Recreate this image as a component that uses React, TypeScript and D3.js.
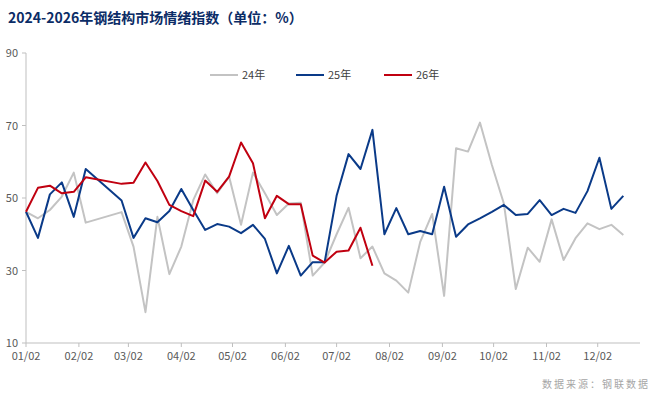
import { useEffect, useRef } from 'react';
import * as d3 from 'd3';

// day offsets from 01/02
const days24 = [0, 7, 14, 21, 28, 35, 56, 63, 70, 77, 84, 91, 98, 105, 112, 119, 126, 133, 140, 147, 154, 161, 168, 175, 182, 189, 196, 203, 210, 217, 224, 231, 238, 245, 252, 259, 266, 273, 280, 287, 294, 301, 308, 315, 322, 329, 336, 343, 350];
const vals24 = [46.2, 44.4, 46.7, 50.4, 57.0, 43.2, 46.1, 36.6, 18.5, 44.8, 29.0, 36.6, 49.4, 56.5, 51.3, 55.9, 42.6, 57.0, 51.3, 45.3, 48.5, 48.7, 28.6, 32.2, 40.0, 47.3, 33.4, 36.6, 29.2, 27.2, 23.9, 37.9, 45.6, 23.0, 63.7, 62.8, 70.8, 59.1, 48.5, 24.9, 36.3, 32.4, 44.1, 32.9, 38.9, 43.0, 41.4, 42.6, 39.8];
const days25 = days24;
const vals25 = [46.2, 39.0, 51.0, 54.3, 44.8, 58.0, 49.3, 39.0, 44.4, 43.3, 46.4, 52.5, 46.7, 41.2, 42.8, 42.1, 40.3, 42.6, 38.7, 29.2, 36.8, 28.6, 32.3, 32.3, 50.6, 62.1, 58.0, 68.8, 40.0, 47.2, 40.0, 40.9, 40.0, 53.1, 39.3, 42.7, 44.4, 46.2, 48.1, 45.3, 45.6, 49.4, 45.3, 47.0, 45.9, 51.9, 61.1, 47.0, 50.6];
const days26 = [0, 7, 14, 21, 28, 35, 56, 63, 70, 77, 84, 91, 98, 105, 112, 119, 126, 133, 140, 147, 154, 161, 168, 175, 182, 189, 196, 203];
const vals26 = [46.2, 52.8, 53.4, 51.3, 51.7, 55.7, 53.9, 54.2, 59.8, 54.7, 48.1, 46.4, 45.0, 54.8, 51.7, 55.9, 65.3, 59.6, 44.4, 50.6, 48.3, 48.3, 34.1, 32.2, 35.2, 35.5, 41.8, 31.3];
const monthLabels = ['01/02', '02/02', '03/02', '04/02', '05/02', '06/02', '07/02', '08/02', '09/02', '10/02', '11/02', '12/02'];
const monthDays = [0, 31, 60, 91, 121, 152, 182, 213, 244, 274, 305, 335];
const yTicks = [10, 30, 50, 70, 90];
const seriesNames = ['24年', '25年', '26年'];
const colors = ['#c3c3c3', '#0a3a88', '#c00010'];

export default function App() {
  const ref = useRef<SVGSVGElement>(null);
  useEffect(() => {
    const svg = d3.select(ref.current);
    svg.selectAll('*').remove();
    const x = d3.scaleLinear().domain([0, 334]).range([26, 596]);
    const y = d3.scaleLinear().domain([10, 90]).range([343, 53]);
    const font = '"Noto Sans CJK SC", "Noto Sans", sans-serif';

    svg.append('text').attr('x', 8).attr('y', 23).attr('font-family', font).attr('font-weight', 700)
      .attr('font-size', 14).attr('fill', '#0b2c66').text('2024-2026年钢结构市场情绪指数（单位：%）');

    // y axis
    svg.append('line').attr('x1', 26).attr('x2', 26).attr('y1', 53).attr('y2', 343).attr('stroke', '#bfbfbf');
    yTicks.forEach(t => {
      svg.append('line').attr('x1', 22).attr('x2', 26).attr('y1', y(t)).attr('y2', y(t)).attr('stroke', '#bfbfbf');
      svg.append('text').attr('x', 18).attr('y', y(t) + 4).attr('text-anchor', 'end').attr('font-family', font)
        .attr('font-size', 11).attr('fill', '#595959').text(t);
    });
    // x axis
    svg.append('line').attr('x1', 26).attr('x2', 640).attr('y1', 343).attr('y2', 343).attr('stroke', '#bfbfbf');
    monthDays.forEach((d, i) => {
      svg.append('line').attr('x1', x(d)).attr('x2', x(d)).attr('y1', 343).attr('y2', 347).attr('stroke', '#bfbfbf');
      svg.append('text').attr('x', x(d)).attr('y', 360).attr('text-anchor', 'middle').attr('font-family', font)
        .attr('font-size', 11).attr('fill', '#595959').text(monthLabels[i]);
    });

    const line = d3.line<[number, number]>().x(d => x(d[0])).y(d => y(d[1]));
    const all = [[days24, vals24], [days25, vals25], [days26, vals26]];
    all.forEach(([ds, vs], i) => {
      svg.append('path').attr('d', line(ds.map((d, j) => [d, vs[j]]) as [number, number][]))
        .attr('fill', 'none').attr('stroke', colors[i]).attr('stroke-width', 2).attr('stroke-linejoin', 'round');
    });

    // legend
    const lx = [210, 296, 384];
    seriesNames.forEach((n, i) => {
      svg.append('line').attr('x1', lx[i]).attr('x2', lx[i] + 28).attr('y1', 75).attr('y2', 75)
        .attr('stroke', colors[i]).attr('stroke-width', 2);
      svg.append('text').attr('x', lx[i] + 32).attr('y', 79).attr('font-family', font).attr('font-size', 11)
        .attr('fill', '#404040').text(n);
    });

    svg.append('text').attr('x', 650).attr('y', 388).attr('text-anchor', 'end').attr('font-family', font)
      .attr('font-size', 10).attr('fill', '#a6a6a6').attr('letter-spacing', 2).text('数据来源：钢联数据');
  }, []);
  return <svg ref={ref} width={663} height={414} style={{ position: 'absolute', left: 0, top: 0, background: '#fff' }} />;
}
